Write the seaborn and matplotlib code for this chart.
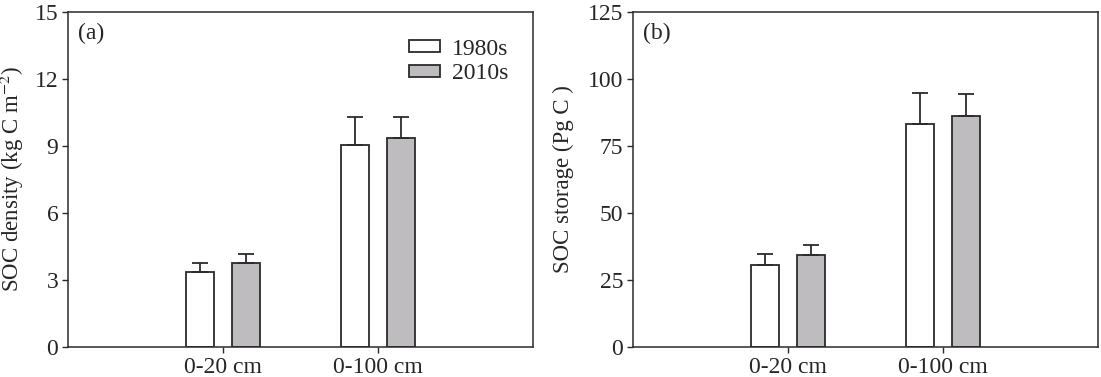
import pandas as pd
import seaborn as sns
import matplotlib.pyplot as plt

# data
depths = ['0-20 cm', '0-100 cm']
periods = ['1980s', '2010s']

density_1980s = [3.36, 9.05]
density_2010s = [3.76, 9.34]
density_sd_1980s = [0.40, 1.25]
density_sd_2010s = [0.40, 0.96]

storage_1980s = [30.6, 83.1]
storage_2010s = [34.3, 86.1]
storage_sd_1980s = [4.0, 11.8]
storage_sd_2010s = [3.8, 8.5]

density_ticks = [0, 3, 6, 9, 12, 15]
storage_ticks = [0, 25, 50, 75, 100, 125]

colors = {'1980s': 'white', '2010s': '#c0bbbf'}
edge = '#2b2b2b'
fs = 17


def make_frame(v80, v10, s80, s10):
    return pd.DataFrame({
        'depth': depths * 2,
        'period': ['1980s'] * 2 + ['2010s'] * 2,
        'value': v80 + v10,
        'sd': s80 + s10,
    })


def draw_panel(ax, df, ticks, ylabel, tag, label_x, legend=False):
    sns.barplot(data=df, x='depth', y='value', hue='period', order=depths,
                hue_order=periods, palette=colors, width=0.6, gap=0.4,
                edgecolor=edge, linewidth=1.3, errorbar=None, ax=ax,
                legend=legend)
    # upward-only error bars on the bar centres
    bars = [p for p in ax.patches if p.get_height() > 0]
    for p in bars:
        x = p.get_x() + p.get_width() / 2
        h = p.get_height()
        row = df[(df['value'] - h).abs() < 1e-9].iloc[0]
        ax.errorbar(x, h, yerr=[[0], [row['sd']]], fmt='none',
                    ecolor=edge, elinewidth=1.3, capsize=6, capthick=1.3)
    ax.set_xlim(-1, 2)
    ax.set_ylim(ticks[0], ticks[-1])
    ax.set_yticks(ticks)
    ax.set_xlabel('')
    ax.set_ylabel(ylabel, fontsize=16.5, va='center')
    ax.yaxis.set_label_coords(label_x, 0.5)
    ax.tick_params(axis='both', labelsize=fs, direction='out', length=4,
                   width=1, color=edge, pad=3)
    for s in ax.spines.values():
        s.set_color(edge)
        s.set_linewidth(1.1)
    ax.text(0.0215, 0.937, tag, transform=ax.transAxes, fontsize=fs,
            va='center', ha='left')
    if legend:
        ax.legend(loc='upper right', bbox_to_anchor=(0.972, 0.956),
                  frameon=False, fontsize=fs, handlelength=1.3,
                  handleheight=0.4, labelspacing=0.15, handletextpad=0.5,
                  borderaxespad=0.1)


sns.set_theme(style='ticks')
plt.rcParams['font.family'] = ['Liberation Serif', 'DejaVu Serif']
plt.rcParams['mathtext.fontset'] = 'stix'

fig, (ax1, ax2) = plt.subplots(1, 2, figsize=(11.01, 3.77), dpi=100)
fig.subplots_adjust(left=0.0618, right=0.9973, bottom=0.0796, top=0.968,
                    wspace=0.215)

draw_panel(ax1, make_frame(density_1980s, density_2010s,
                           density_sd_1980s, density_sd_2010s),
           density_ticks, 'SOC density (kg C m$^{-2}$)', '(a)', -0.12,
           legend=True)
draw_panel(ax2, make_frame(storage_1980s, storage_2010s,
                           storage_sd_1980s, storage_sd_2010s),
           storage_ticks, 'SOC storage (Pg C )', '(b)', -0.15)

fig.savefig('out.png', dpi=100)
